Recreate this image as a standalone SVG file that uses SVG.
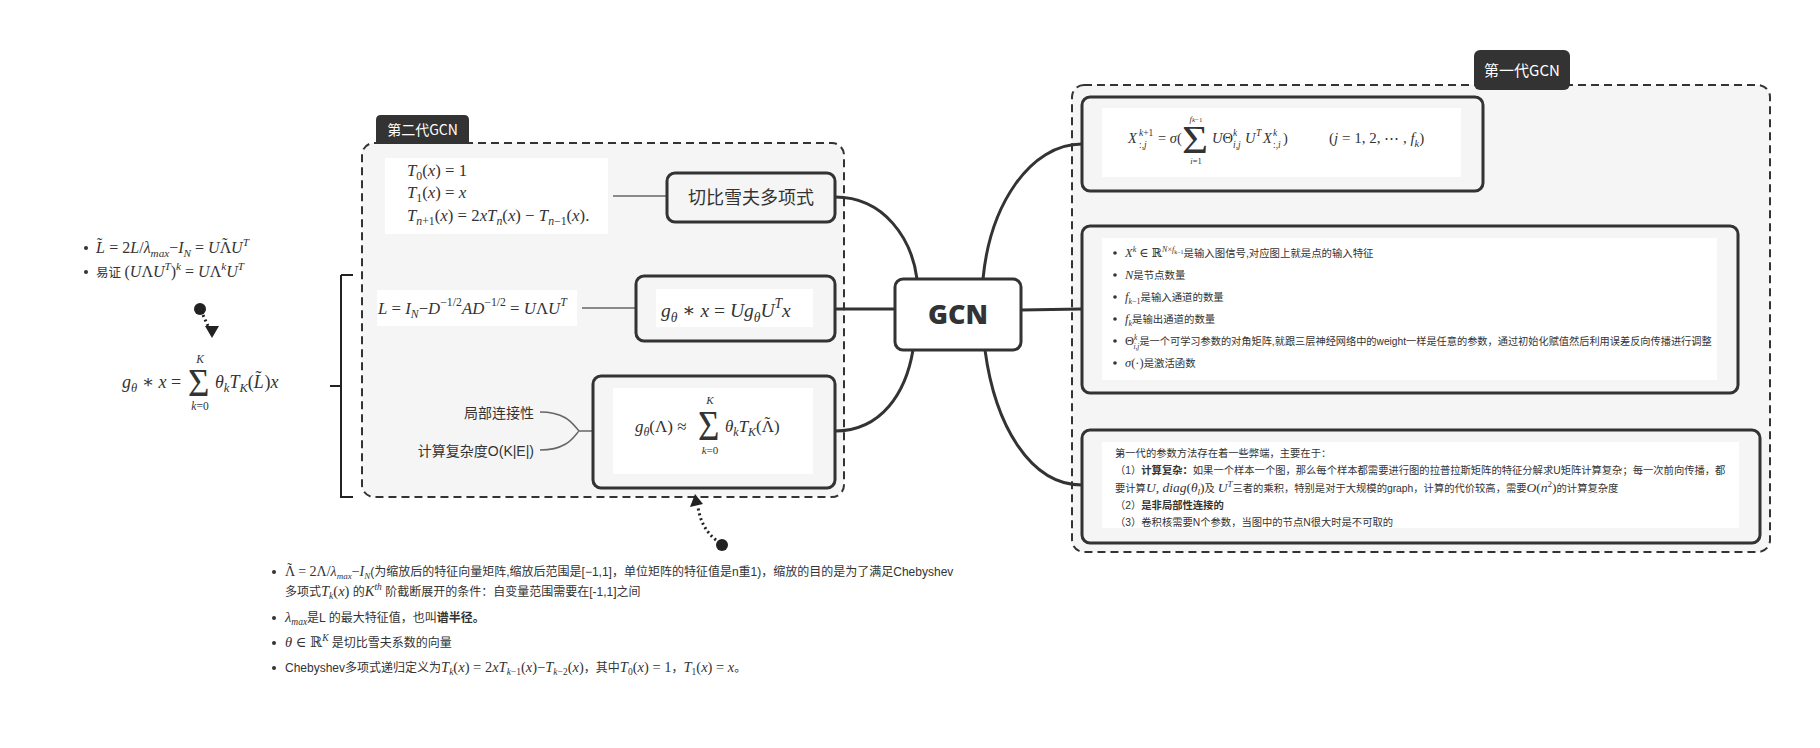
<svg xmlns="http://www.w3.org/2000/svg" width="1820" height="748" viewBox="0 0 1820 748">
<style>
.grp{fill:#f5f5f5;stroke:#333;stroke-width:2;stroke-dasharray:8 5}
.tab{fill:#333}
.tabt{fill:#fff;font-family:"Noto Sans CJK SC",sans-serif;text-anchor:middle}
.nd{fill:#f5f5f5;stroke:#333;stroke-width:3}
.gcn{fill:#fff;stroke:#333;stroke-width:3}
.wh{fill:#fff}
.c{fill:none;stroke:#333;stroke-width:3;stroke-linecap:round}
.th{fill:none;stroke:#666;stroke-width:1.5}
.m{font-family:"Liberation Serif","DejaVu Serif",serif;fill:#333}
.i{font-style:italic}
.t{font-family:"Liberation Sans","Noto Sans CJK SC",sans-serif;fill:#333}
.b{font-weight:bold}
.sb{font-size:70%;baseline-shift:-0.35em}
.sp{font-size:70%;baseline-shift:0.65em}
.mid{text-anchor:middle}
.dot{fill:#333}
</style>

<g id="group-gen2">
<rect class="grp" x="362" y="143" width="482" height="354" rx="12"/>
<path class="tab" d="M376,144 V120 Q376,115 381,115 H464 Q469,115 469,120 V144 Z"/>
<text class="tabt" x="422.5" y="135" font-size="14">第二代GCN</text>
</g>

<g id="group-gen1">
<rect class="grp" x="1072" y="85" width="698" height="467" rx="12"/>
<rect class="tab" x="1474" y="50" width="96" height="40" rx="6"/>
<text class="tabt" x="1522" y="76" font-size="15">第一代GCN</text>
</g>

<g id="connectors">
<path class="c" d="M835,197 C885,197 912,240 917,279"/>
<path class="c" d="M835,309 L895,309"/>
<path class="c" d="M835,431 C882,431 906,392 913,350"/>
<path class="c" d="M983,279 C990,205 1030,144 1082,144"/>
<path class="c" d="M1021,310 L1082,309"/>
<path class="c" d="M985,350 C995,425 1030,485 1082,485"/>
<path class="th" d="M613,196 L667,196"/>
<path class="th" d="M582,308 L636,308"/>
<path class="th" d="M540,412 C568,412 574,426 579,431 M540,450 C568,450 574,436 579,431 M579,431 L593,431"/>
<path fill="none" stroke="#222" stroke-width="2" d="M341,275 L353,275 M341,275 L341,497 L353,497 M330,386 L341,386"/>
<circle cx="200" cy="309" r="6" fill="#222"/>
<path d="M203,315 L208,326" fill="none" stroke="#222" stroke-width="3" stroke-dasharray="2 3"/>
<polygon points="205,326 219,326 212,338" fill="#222"/>
<circle cx="722" cy="545" r="6" fill="#222"/>
<path d="M716,540 Q701,528 698,507" fill="none" stroke="#222" stroke-width="3" stroke-dasharray="2 3"/>
<polygon points="695,494 690,507 703,504" fill="#222"/>
</g>

<g id="f-cheb">
<rect class="wh" x="385" y="158" width="223" height="76"/>
<text class="m" font-size="16.8" x="407" y="176"><tspan class="i">T</tspan><tspan class="sb">0</tspan>(<tspan class="i">x</tspan>) = 1</text>
<text class="m" font-size="16.8" x="407" y="198"><tspan class="i">T</tspan><tspan class="sb">1</tspan>(<tspan class="i">x</tspan>) = <tspan class="i">x</tspan></text>
<text class="m" font-size="16.8" x="407" y="221"><tspan class="i">T</tspan><tspan class="sb"><tspan class="i">n</tspan>+1</tspan>(<tspan class="i">x</tspan>) = 2<tspan class="i">xT</tspan><tspan class="sb i">n</tspan>(<tspan class="i">x</tspan>) − <tspan class="i">T</tspan><tspan class="sb"><tspan class="i">n</tspan>−1</tspan>(<tspan class="i">x</tspan>).</text>
</g>

<g id="n-cheb">
<rect class="nd" x="667" y="173" width="168" height="49" rx="8"/>
<text class="t mid" x="751" y="204" font-size="18" font-family="Noto Sans CJK SC">切比雪夫多项式</text>
</g>

<g id="f-lap">
<rect class="wh" x="377" y="290" width="200" height="36"/>
<text class="m" font-size="16.8" x="378" y="314" fill="#444"><tspan class="i">L</tspan> = <tspan class="i">I</tspan><tspan class="sb i">N</tspan>−<tspan class="i">D</tspan><tspan class="sp">−1/2</tspan><tspan class="i">AD</tspan><tspan class="sp">−1/2</tspan> = <tspan class="i">U</tspan>Λ<tspan class="i">U</tspan><tspan class="sp i">T</tspan></text>
</g>

<g id="n-gconv">
<rect class="nd" x="636" y="276" width="199" height="65" rx="8"/>
<rect class="wh" x="656" y="289" width="157" height="38"/>
<text class="m" font-size="19.5" x="661" y="317"><tspan class="i">g</tspan><tspan class="sb i">θ</tspan> ∗ <tspan class="i">x</tspan> = <tspan class="i">Ug</tspan><tspan class="sb i">θ</tspan><tspan class="i">U</tspan><tspan class="sp i">T</tspan><tspan class="i">x</tspan></text>
</g>

<g id="n-approx">
<rect class="nd" x="593" y="376" width="242" height="112" rx="8"/>
<rect class="wh" x="613" y="388" width="200" height="86"/>
<text class="m" font-size="17" x="635" y="432"><tspan class="i">g</tspan><tspan class="sb i">θ</tspan>(Λ) ≈</text>
<text class="m" font-size="32" transform="translate(698,440) scale(1.15,1.32)">Σ</text>
<text class="m i mid" font-size="11" x="710" y="404">K</text>
<text class="m mid" font-size="11" x="710" y="454"><tspan class="i">k</tspan>=0</text>
<text class="m" font-size="17" x="725" y="432"><tspan class="i">θ</tspan><tspan class="sb i">k</tspan><tspan class="i">T</tspan><tspan class="sb i">K</tspan>(Λ<tspan dx="-9.5" dy="-4">˜</tspan><tspan dx="3.8" dy="4">)</tspan></text>
</g>

<g id="n-local">
<text class="t" x="534" y="418" font-size="14" text-anchor="end">局部连接性</text>
</g>
<g id="n-complex">
<text class="t" x="534" y="456" font-size="14" text-anchor="end">计算复杂度O(K|E|)</text>
</g>

<g id="n-gcn">
<rect class="gcn" x="895" y="279" width="126" height="71" rx="8"/>
<text x="958" y="324" font-family="Open Sans, sans-serif" font-weight="800" font-size="27" fill="#333" text-anchor="middle">GCN</text>
</g>

<g id="n-gen1-formula">
<rect class="nd" x="1082" y="97" width="401" height="94" rx="8"/>
<rect class="wh" x="1102" y="108" width="359" height="69"/>
<text class="m" font-size="14.5" x="1128" y="143"><tspan class="i">X</tspan></text>
<text class="m" font-size="9.5"><tspan x="1139" y="136" class="i">k</tspan><tspan>+1</tspan><tspan x="1139" y="148">:,</tspan><tspan class="i">j</tspan></text>
<text class="m" font-size="14.5" x="1158" y="143">= <tspan class="i">σ</tspan>(</text>
<text class="m" font-size="32" transform="translate(1182,153) scale(1.4,1.22)">Σ</text>
<text class="m mid" font-size="8.5" x="1196" y="122"><tspan class="i">f</tspan><tspan class="i" font-size="7">k</tspan><tspan font-size="7">−1</tspan></text>
<text class="m mid" font-size="8.5" x="1196" y="164"><tspan class="i">i</tspan>=1</text>
<text class="m" font-size="14.5"><tspan x="1212" y="143" class="i">U</tspan><tspan>Θ</tspan><tspan x="1245" class="i">U</tspan><tspan x="1263" class="i">X</tspan><tspan x="1283">)</tspan></text>
<text class="m" font-size="9.5"><tspan x="1233" y="136" class="i">k</tspan><tspan x="1233" y="148" class="i">i,j</tspan><tspan x="1256" y="136" class="i">T</tspan><tspan x="1273" y="136" class="i">k</tspan><tspan x="1273" y="148">:,</tspan><tspan class="i">i</tspan></text>
<text class="m" font-size="15" x="1329" y="143">(<tspan class="i">j</tspan> = 1, 2, ⋯ , <tspan class="i">f</tspan><tspan class="sb i">k</tspan>)</text>
</g>

<g id="n-gen1-notes">
<rect class="nd" x="1082" y="226" width="656" height="167" rx="8"/>
<rect class="wh" x="1102" y="238" width="615" height="142"/>
<circle class="dot" cx="1115" cy="253" r="1.8"/>
<circle class="dot" cx="1115" cy="275" r="1.8"/>
<circle class="dot" cx="1115" cy="297" r="1.8"/>
<circle class="dot" cx="1115" cy="319" r="1.8"/>
<circle class="dot" cx="1115" cy="341" r="1.8"/>
<circle class="dot" cx="1115" cy="363" r="1.8"/>
<text class="t" font-size="10.4" x="1125" y="257"><tspan class="m i" font-size="12.5">X</tspan><tspan class="m i" font-size="8" baseline-shift="5">k</tspan><tspan class="m" font-size="12.5"> ∈ ℝ</tspan><tspan class="m i" font-size="8" baseline-shift="5">N</tspan><tspan class="m" font-size="8" baseline-shift="5">×</tspan><tspan class="m i" font-size="8" baseline-shift="5">f</tspan><tspan class="m" font-size="6" baseline-shift="3.5">k−1</tspan>是输入图信号,对应图上就是点的输入特征</text>
<text class="t" font-size="10.4" x="1125" y="279"><tspan class="m i" font-size="12.5">N</tspan>是节点数量</text>
<text class="t" font-size="10.4" x="1125" y="301"><tspan class="m i" font-size="12.5">f</tspan><tspan class="m" font-size="8" baseline-shift="-3"><tspan class="i">k</tspan>−1</tspan>是输入通道的数量</text>
<text class="t" font-size="10.4" x="1125" y="323"><tspan class="m i" font-size="12.5">f</tspan><tspan class="m i" font-size="8" baseline-shift="-3">k</tspan>是输出通道的数量</text>
<text class="t" font-size="10.2" x="1125" y="345"><tspan class="m" font-size="12.5">Θ</tspan><tspan class="m i" font-size="7.5" baseline-shift="5">k</tspan><tspan class="m i" font-size="7.5" dx="-4" baseline-shift="-4">i,j</tspan>是一个可学习参数的对角矩阵,就跟三层神经网络中的weight一样是任意的参数，通过初始化赋值然后利用误差反向传播进行调整</text>
<text class="t" font-size="10.4" x="1125" y="367"><tspan class="m i" font-size="12.5">σ</tspan><tspan class="m" font-size="12.5">(·)</tspan>是激活函数</text>
</g>

<g id="n-gen1-issues">
<rect class="nd" x="1082" y="430" width="678" height="113" rx="8"/>
<rect class="wh" x="1102" y="442" width="637" height="86"/>
<text class="t" font-size="10.3" x="1115" y="457">第一代的参数方法存在着一些弊端，主要在于：</text>
<text class="t" font-size="10.3" x="1115" y="474">（1）<tspan class="b">计算复杂：</tspan>如果一个样本一个图，那么每个样本都需要进行图的拉普拉斯矩阵的特征分解求U矩阵计算复杂；每一次前向传播，都</text>
<text class="t" font-size="10.3" x="1115" y="492">要计算<tspan class="m" font-size="13.5"><tspan class="i">U</tspan>, <tspan class="i">diag</tspan>(<tspan class="i">θ</tspan><tspan class="i" font-size="9" baseline-shift="-3">l</tspan>)</tspan>及 <tspan class="m i" font-size="13.5">U</tspan><tspan class="m i" font-size="9" baseline-shift="5">T</tspan>三者的乘积，特别是对于大规模的graph，计算的代价较高，需要<tspan class="m" font-size="13.5"><tspan class="i">O</tspan>(<tspan class="i">n</tspan></tspan><tspan class="m" font-size="9" baseline-shift="5">2</tspan><tspan class="m" font-size="13.5">)</tspan>的计算复杂度</text>
<text class="t" font-size="10.3" x="1115" y="509">（2）<tspan class="b">是非局部性连接的</tspan></text>
<text class="t" font-size="10.3" x="1115" y="526">（3）卷积核需要N个参数，当图中的节点N很大时是不可取的</text>
</g>

<g id="n-left-notes">
<circle class="dot" cx="86" cy="248" r="2"/>
<circle class="dot" cx="86" cy="272" r="2"/>
<text class="m" font-size="16" x="96" y="253"><tspan class="i">L</tspan><tspan dx="-8" dy="-4">˜</tspan><tspan dy="4" dx="3"> = 2</tspan><tspan class="i">L</tspan>/<tspan class="i">λ</tspan><tspan class="sb i">max</tspan>−<tspan class="i">I</tspan><tspan class="sb i">N</tspan> = <tspan class="i">U</tspan>Λ<tspan dx="-9" dy="-4">˜</tspan><tspan class="i" dx="3.5" dy="4">U</tspan><tspan class="sp i">T</tspan></text>
<text class="m" font-size="16" x="96" y="277"><tspan class="t" font-size="12.5">易证 </tspan>(<tspan class="i">U</tspan>Λ<tspan class="i">U</tspan><tspan class="sp i">T</tspan>)<tspan class="sp i">k</tspan> = <tspan class="i">U</tspan>Λ<tspan class="sp i">k</tspan><tspan class="i">U</tspan><tspan class="sp i">T</tspan></text>
</g>

<g id="n-left-formula">
<text class="m" font-size="18" x="122" y="388"><tspan class="i">g</tspan><tspan class="sb i">θ</tspan> ∗ <tspan class="i">x</tspan> =</text>
<text class="m" font-size="32" transform="translate(188,396) scale(1.15,1.25)">Σ</text>
<text class="m i mid" font-size="11.5" x="200" y="363">K</text>
<text class="m mid" font-size="11.5" x="200" y="410"><tspan class="i">k</tspan>=0</text>
<text class="m" font-size="18" x="215" y="388"><tspan class="i">θ</tspan><tspan class="sb i">k</tspan><tspan class="i">T</tspan><tspan class="sb i">K</tspan>(<tspan class="i">L</tspan><tspan dx="-8.5" dy="-4">˜</tspan><tspan dx="3" dy="4">)</tspan><tspan class="i">x</tspan></text>
</g>

<g id="n-bottom-notes">
<circle class="dot" cx="274" cy="572" r="2"/>
<circle class="dot" cx="274" cy="618" r="2"/>
<circle class="dot" cx="274" cy="643" r="2"/>
<circle class="dot" cx="274" cy="668" r="2"/>
<text class="t" font-size="12" x="285" y="576"><tspan class="m" font-size="14">Λ</tspan><tspan class="m" font-size="14" dx="-8" dy="-3.5">˜</tspan><tspan class="m" font-size="14" dx="2.8" dy="3.5"> = 2Λ/<tspan class="i">λ</tspan></tspan><tspan class="m i" font-size="9" baseline-shift="-3">max</tspan><tspan class="m" font-size="14">−<tspan class="i">I</tspan></tspan><tspan class="m i" font-size="9" baseline-shift="-3">N</tspan>(为缩放后的特征向量矩阵,缩放后范围是[−1,1]，单位矩阵的特征值是n重1)，缩放的目的是为了满足Chebyshev</text>
<text class="t" font-size="12" x="285" y="596">多项式<tspan class="m i" font-size="14.5">T</tspan><tspan class="m i" font-size="9.5" baseline-shift="-3">k</tspan><tspan class="m" font-size="14.5">(<tspan class="i">x</tspan>)</tspan> 的<tspan class="m i" font-size="14.5">K</tspan><tspan class="m i" font-size="9.5" baseline-shift="6">th</tspan> 阶截断展开的条件：自变量范围需要在[-1,1]之间</text>
<text class="t" font-size="12" x="285" y="622"><tspan class="m i" font-size="14.5">λ</tspan><tspan class="m i" font-size="9.5" baseline-shift="-3">max</tspan>是L 的最大特征值，也叫<tspan class="b">谱半径。</tspan></text>
<text class="t" font-size="12" x="285" y="647"><tspan class="m i" font-size="14.5">θ</tspan><tspan class="m" font-size="14.5"> ∈ ℝ</tspan><tspan class="m i" font-size="9.5" baseline-shift="6">K</tspan> 是切比雪夫系数的向量</text>
<text class="t" font-size="12" x="285" y="672">Chebyshev多项式递归定义为<tspan class="m i" font-size="14.5">T</tspan><tspan class="m i" font-size="9.5" baseline-shift="-3">k</tspan><tspan class="m" font-size="14.5">(<tspan class="i">x</tspan>) = 2<tspan class="i">xT</tspan></tspan><tspan class="m" font-size="9.5" baseline-shift="-3"><tspan class="i">k</tspan>−1</tspan><tspan class="m" font-size="14.5">(<tspan class="i">x</tspan>)−<tspan class="i">T</tspan></tspan><tspan class="m" font-size="9.5" baseline-shift="-3"><tspan class="i">k</tspan>−2</tspan><tspan class="m" font-size="14.5">(<tspan class="i">x</tspan>)</tspan>，其中<tspan class="m i" font-size="14.5">T</tspan><tspan class="m" font-size="9.5" baseline-shift="-3">0</tspan><tspan class="m" font-size="14.5">(<tspan class="i">x</tspan>) = 1</tspan>，<tspan class="m i" font-size="14.5">T</tspan><tspan class="m" font-size="9.5" baseline-shift="-3">1</tspan><tspan class="m" font-size="14.5">(<tspan class="i">x</tspan>) = <tspan class="i">x</tspan></tspan>。</text>
</g>
</svg>
